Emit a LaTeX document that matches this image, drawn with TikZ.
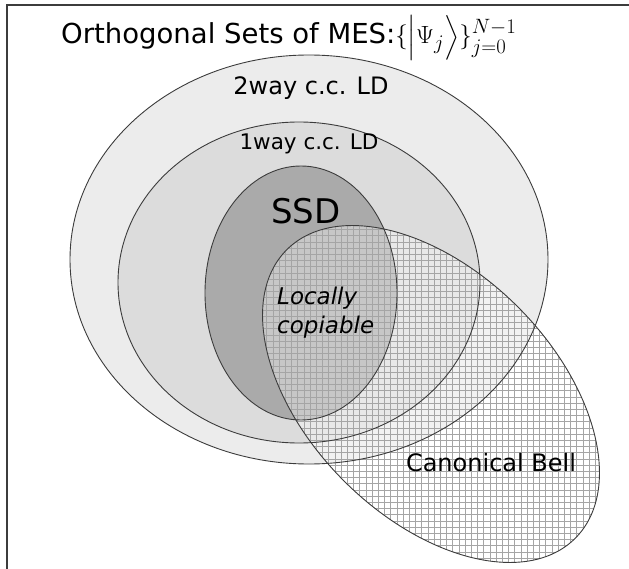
\documentclass[tikz,border=0pt]{standalone}
\usepackage{amsmath}
\usepackage{exscale}
\usepackage{fontspec}
\setmainfont{DejaVu Sans}
\definecolor{linie}{RGB}{60,60,60}
\definecolor{zweiweg}{RGB}{236,236,236}
\definecolor{einweg}{RGB}{220,220,220}
\definecolor{ssd}{RGB}{170,170,170}
\definecolor{gitter}{RGB}{165,165,165}
\tikzset{
	menge/.style={draw=linie, line width=0.9pt},
	gitterlinie/.style={draw=gitter, line width=0.5pt},
	beschriftung/.style={inner sep=0pt, text=black},
}
\begin{document}
\begin{tikzpicture}[x=1pt, y=-1pt]
	\useasboundingbox (0,0) rectangle (629,569);
	% Rahmen oben und links
	\draw[line width=1.3pt, draw=linie] (7,569) -- (7,5) -- (629,5);
	% Flaechen der Mengen
	\fill[zweiweg] (309,259.5) ellipse [x radius=239pt, y radius=204.5pt];
	\fill[einweg] (299,282.5) ellipse [x radius=181pt, y radius=160.5pt];
	\fill[ssd] (301,293) ellipse [x radius=96pt, y radius=127pt];
	% Canonical Bell mit Gitter
	\fill[white, fill opacity=0.35, rotate around={-45:(431,394)}] (431,394)
	ellipse [x radius=204pt, y radius=123pt];
	\begin{scope}
		\clip[rotate around={-45:(431,394)}] (431,394) ellipse [x radius=204pt,
		y radius=123pt];
		\draw[gitterlinie, step=6.2pt] (220,569) grid (629,200);
	\end{scope}
	% Umrisse
	\draw[menge] (309,259.5) ellipse [x radius=239pt, y radius=204.5pt];
	\draw[menge] (299,282.5) ellipse [x radius=181pt, y radius=160.5pt];
	\draw[menge] (301,293) ellipse [x radius=96pt, y radius=127pt];
	\draw[menge, rotate around={-45:(431,394)}] (431,394) ellipse [x radius=204pt,
	y radius=123pt];
	% Texte
	\node[beschriftung, anchor=base west, font=\fontsize{27.5}{33}\selectfont] (titel)
	at (61,44) {Orthogonal Sets of MES:$\{\Bigl|\Psi_j\Bigr\rangle\}_{j=0}^{N-1}$};
	\node[beschriftung, font=\fontsize{24}{29}\selectfont] (zweiwegtext) at (311,88)
	{2way c.c. LD};
	\node[beschriftung, font=\fontsize{21.5}{26}\selectfont] (einwegtext) at (309,144)
	{1way c.c. LD};
	\node[beschriftung, font=\fontsize{34}{40}\selectfont] (ssdtext) at (306,211) {SSD};
	\node[beschriftung, anchor=west, align=left, font=\fontsize{23}{29}\selectfont\itshape]
	(lokal) at (277,313) {Locally\\copiable};
	\node[beschriftung, font=\fontsize{24}{29}\selectfont] (belltext) at (491,463)
	{Canonical Bell};
\end{tikzpicture}
\end{document}
